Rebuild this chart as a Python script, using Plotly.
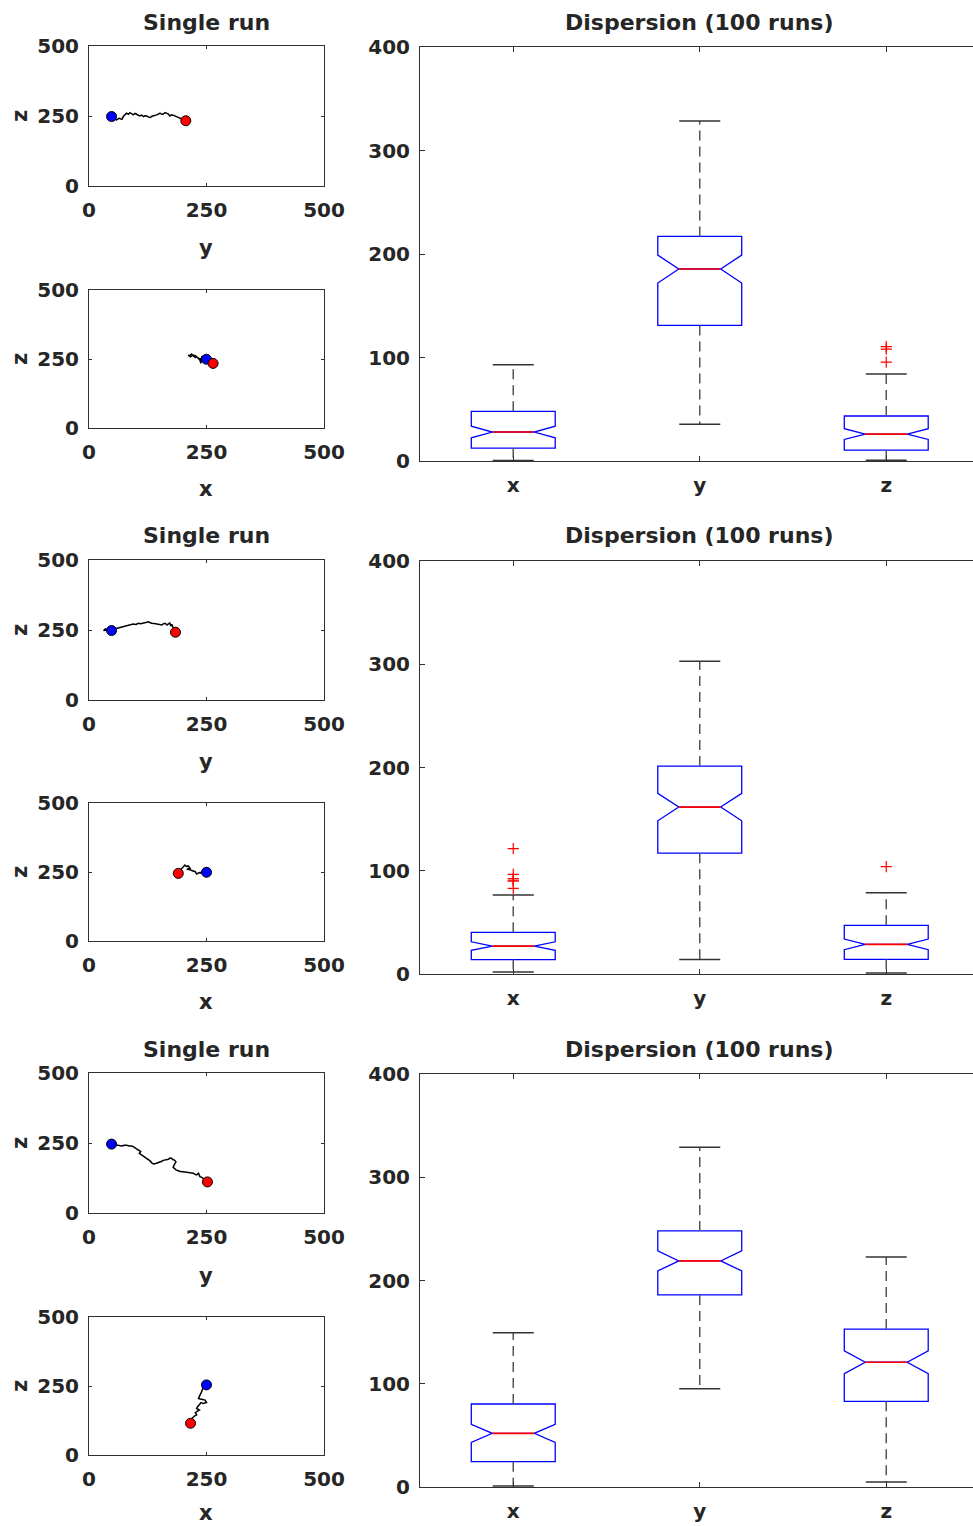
import numpy as np
import plotly.graph_objects as go

W, H = 973, 1526

# ---------------- Single-run trajectories (data units) ----------------
# Run 1: z vs y
r1_zy_y = [48, 53, 59, 64, 70, 73, 77, 80, 84, 87, 91, 94, 98, 101, 105, 108, 112, 116, 119, 123, 127, 130,
           134, 137, 141, 144, 148, 151, 155, 158, 162, 165, 169, 172, 176, 179, 183, 186, 190, 194, 200, 206]
r1_zy_z = [248, 240, 236, 242, 238, 248, 255, 260, 256, 262, 258, 254, 259, 257, 252, 250, 253, 248, 251, 250,
           246, 245, 249, 250, 254, 254, 257, 260, 256, 257, 262, 259, 257, 250, 254, 253, 250, 248, 245, 242, 238, 233]
# Run 1: z vs x
r1_zx_x = [250, 246, 243, 240, 238, 236, 233, 229, 226, 222, 218, 214, 211, 216, 221, 226, 231, 236, 241, 246, 251, 256, 260, 264]
r1_zx_z = [249, 256, 261, 258, 234, 246, 252, 258, 255, 261, 268, 262, 264, 258, 264, 262, 255, 250, 254, 244, 247, 240, 238, 234]
# Run 2: z vs y
r2_zy_y = [48, 40, 31, 35, 38, 45, 52, 59, 66, 73, 80, 87, 94, 100, 105, 110, 116, 121, 126, 130, 133, 139,
           144, 150, 155, 158, 162, 166, 169, 172, 174, 176, 178, 181, 184]
r2_zy_z = [248, 250, 248, 254, 252, 250, 253, 256, 258, 260, 264, 268, 271, 270, 274, 272, 276, 277, 279, 276,
           274, 273, 271, 270, 268, 272, 274, 268, 271, 275, 264, 270, 262, 256, 242]
# Run 2: z vs x
r2_zx_x = [250, 245, 240, 237, 235, 232, 229, 226, 222, 218, 213, 208, 212, 215, 211, 207, 204, 200, 197, 193, 190]
r2_zx_z = [249, 247, 251, 246, 248, 244, 243, 251, 254, 257, 259, 260, 262, 263, 272, 270, 275, 268, 263, 255, 245]
# Run 3: z vs y
r3_zy_y = [48, 54, 59, 65, 70, 75, 80, 86, 91, 95, 98, 102, 105, 108, 110, 107, 112, 116, 119, 123, 126, 130,
           133, 135, 137, 142, 148, 151, 155, 158, 162, 165, 169, 172, 176, 179, 182, 185, 183, 181, 179, 182,
           185, 190, 194, 200, 208, 215, 222, 226, 229, 233, 236, 240, 243, 248, 252]
r3_zy_z = [246, 244, 243, 240, 239, 242, 242, 239, 239, 236, 231, 228, 225, 222, 219, 213, 207, 203, 199, 196,
           192, 186, 180, 178, 175, 177, 180, 183, 185, 188, 189, 191, 192, 196, 195, 190, 189, 183, 178, 171,
           163, 158, 154, 151, 148, 147, 145, 144, 142, 138, 136, 142, 130, 127, 124, 117, 111]
# Run 3: z vs x
r3_zx_x = [250, 246, 243, 241, 240, 238, 236, 234, 233, 237, 240, 244, 247, 250, 247, 243, 240, 238, 236, 233,
           231, 229, 232, 235, 230, 226, 228, 229, 225, 222, 220, 218, 217, 216]
r3_zx_z = [254, 248, 242, 236, 229, 223, 217, 211, 205, 203, 202, 200, 199, 190, 188, 187, 189, 190, 185, 181,
           175, 169, 166, 163, 158, 153, 149, 145, 142, 139, 134, 129, 122, 115]

# ---------------- Dispersion (100 runs) box statistics ----------------
box_categories = ["x", "y", "z"]
n_runs = 100

r1_q1 = [12.5, 131.0, 10.6]
r1_med = [28.0, 185.5, 26.0]
r1_q3 = [48.0, 217.0, 43.5]
r1_wlo = [0.5, 35.5, 0.8]
r1_whi = [93.0, 328.5, 84.0]
r1_out = [[], [], [95.5, 108.0, 110.5]]

r2_q1 = [14.0, 117.0, 14.2]
r2_med = [27.0, 161.7, 28.7]
r2_q3 = [40.4, 201.4, 47.1]
r2_wlo = [2.0, 14.0, 1.0]
r2_whi = [76.5, 303.0, 78.7]
r2_out = [[83.0, 90.0, 91.0, 92.5, 96.5, 121.5], [], [104.0]]

r3_q1 = [24.5, 186.0, 83.0]
r3_med = [52.0, 219.0, 120.8]
r3_q3 = [80.4, 248.0, 153.0]
r3_wlo = [1.0, 95.2, 4.8]
r3_whi = [149.4, 329.0, 222.8]
r3_out = [[], [], []]

# ---------------- layout geometry ----------------
def fx(px):
    return px / W

def fy(py):
    return 1 - py / H

FONT = "DejaVu Sans"
TXT = "#262626"
AXC = "#303030"

rows = [
    dict(top=(46, 186), bot=(290, 428), box=(47, 461), title_y=22, lab1_y=248, lab2_y=489,
         zy=(r1_zy_y, r1_zy_z), zx=(r1_zx_x, r1_zx_z),
         stats=(r1_q1, r1_med, r1_q3, r1_wlo, r1_whi, r1_out)),
    dict(top=(560, 700), bot=(803, 941), box=(561, 974), title_y=536, lab1_y=762, lab2_y=1002,
         zy=(r2_zy_y, r2_zy_z), zx=(r2_zx_x, r2_zx_z),
         stats=(r2_q1, r2_med, r2_q3, r2_wlo, r2_whi, r2_out)),
    dict(top=(1073, 1213), bot=(1317, 1455), box=(1074, 1487), title_y=1049, lab1_y=1276, lab2_y=1513,
         zy=(r3_zy_y, r3_zy_z), zx=(r3_zx_x, r3_zx_z),
         stats=(r3_q1, r3_med, r3_q3, r3_wlo, r3_whi, r3_out)),
]

SX0, SX1 = 89, 324
BX0 = 420
cat_px = 186.5
xr_right = 0.5 + (W - BX0) / cat_px

fig = go.Figure()
layout = dict(width=W, height=H, margin=dict(l=0, r=0, t=0, b=0, autoexpand=False),
              paper_bgcolor="white", plot_bgcolor="white", showlegend=False)
annotations = []

tickfont = dict(family=FONT, size=20, color=TXT, weight="bold")

def small_axes(idx, py0, py1):
    common = dict(showline=True, linecolor=AXC, linewidth=1, mirror="ticks", ticks="inside",
                  ticklen=3, tickcolor=AXC, showgrid=False, zeroline=False, range=[0, 500],
                  tickvals=[0, 250, 500], tickfont=tickfont, fixedrange=True)
    layout["xaxis%s" % ("" if idx == 1 else idx)] = dict(
        domain=[fx(SX0), fx(SX1)], anchor="y%s" % ("" if idx == 1 else idx),
        ticklabelstandoff=6, **common)
    layout["yaxis%s" % ("" if idx == 1 else idx)] = dict(
        domain=[fy(py1), fy(py0)], anchor="x%s" % ("" if idx == 1 else idx),
        ticklabelstandoff=5, **common)

def box_axes(idx, py0, py1):
    layout["xaxis%d" % idx] = dict(
        domain=[fx(BX0), 1.0], anchor="y%d" % idx, range=[0.5, xr_right],
        showline=True, linecolor=AXC, linewidth=1, mirror="ticks", ticks="inside",
        ticklen=5, tickcolor=AXC, showgrid=False, zeroline=False,
        tickvals=[1, 2, 3], ticktext=box_categories, tickfont=tickfont,
        ticklabelstandoff=6, fixedrange=True)
    layout["yaxis%d" % idx] = dict(
        domain=[fy(py1), fy(py0)], anchor="x%d" % idx, range=[0, 400],
        showline=True, linecolor=AXC, linewidth=1, mirror=False, ticks="inside",
        ticklen=5, tickcolor=AXC, showgrid=False, zeroline=False,
        tickvals=[0, 100, 200, 300, 400], tickfont=tickfont,
        ticklabelstandoff=5, fixedrange=True)

def ann(text, x, y, size=20, angle=0):
    annotations.append(dict(text=text, x=fx(x), y=fy(y), xref="paper", yref="paper",
                            xanchor="center", yanchor="middle", showarrow=False,
                            textangle=angle,
                            font=dict(family=FONT, size=size, color=TXT, weight="bold")))

BOXW = 0.45
CAPW = 0.22

ax = 1
for r in rows:
    i1 = ax
    small_axes(i1, *r["top"])
    i2 = ax + 1
    small_axes(i2, *r["bot"])
    ib = ax + 2
    box_axes(ib, *r["box"])
    ax += 3

    for idx, (px, pz) in ((i1, r["zy"]), (i2, r["zx"])):
        xa = "x" if idx == 1 else "x%d" % idx
        ya = "y" if idx == 1 else "y%d" % idx
        fig.add_trace(go.Scatter(x=px, y=pz, mode="lines", line=dict(color="black", width=1.5),
                                 xaxis=xa, yaxis=ya, hoverinfo="skip"))
        fig.add_trace(go.Scatter(x=[px[0]], y=[pz[0]], mode="markers",
                                 marker=dict(color="#0000FF", size=10, line=dict(color="black", width=1)),
                                 xaxis=xa, yaxis=ya))
        fig.add_trace(go.Scatter(x=[px[-1]], y=[pz[-1]], mode="markers",
                                 marker=dict(color="#FF0000", size=10, line=dict(color="black", width=1)),
                                 xaxis=xa, yaxis=ya))

    q1, med, q3, wlo, whi, outs = r["stats"]
    pos = [1, 2, 3]
    xa, ya = "x%d" % ib, "y%d" % ib
    notch = [1.57 * (b - a) / np.sqrt(n_runs) for a, b in zip(q1, q3)]

    # whiskers (dashed)
    wx, wy = [], []
    for p, a, b, lo, hi in zip(pos, q1, q3, wlo, whi):
        wx += [p, p, None, p, p, None]
        wy += [b, hi, None, a, lo, None]
    fig.add_trace(go.Scatter(x=wx, y=wy, mode="lines", xaxis=xa, yaxis=ya, hoverinfo="skip",
                             line=dict(color="#555555", width=1.5, dash="10px,6px")))
    # caps
    cx, cy = [], []
    for p, lo, hi in zip(pos, wlo, whi):
        cx += [p - CAPW / 2, p + CAPW / 2, None, p - CAPW / 2, p + CAPW / 2, None]
        cy += [hi, hi, None, lo, lo, None]
    fig.add_trace(go.Scatter(x=cx, y=cy, mode="lines", xaxis=xa, yaxis=ya, hoverinfo="skip",
                             line=dict(color="#333333", width=1.5)))
    # notched boxes
    fig.add_trace(go.Box(x=pos, q1=q1, median=med, q3=q3, lowerfence=q1, upperfence=q3,
                         notched=True, notchspan=notch, notchwidth=0.25, width=BOXW,
                         whiskerwidth=0, boxpoints=False,
                         line=dict(color="#0000FF", width=1.3), fillcolor="rgba(0,0,0,0)",
                         xaxis=xa, yaxis=ya))
    # red medians
    mx, my = [], []
    for p, m in zip(pos, med):
        mx += [p - BOXW / 4, p + BOXW / 4, None]
        my += [m, m, None]
    fig.add_trace(go.Scatter(x=mx, y=my, mode="lines", xaxis=xa, yaxis=ya, hoverinfo="skip",
                             line=dict(color="#FF0000", width=1.7)))
    # outliers
    ox, oy = [], []
    for p, o in zip(pos, outs):
        ox += [p] * len(o)
        oy += o
    if ox:
        fig.add_trace(go.Scatter(x=ox, y=oy, mode="markers", xaxis=xa, yaxis=ya,
                                 marker=dict(symbol="cross-thin", size=8,
                                             line=dict(color="#FF0000", width=1.2))))

    ann("Single run", 206, r["title_y"], size=22)
    ann("Dispersion (100 runs)", 699, r["title_y"], size=22)
    ann("y", 206, r["lab1_y"], size=21)
    ann("x", 206, r["lab2_y"], size=21)
    ann("z", 20, (r["top"][0] + r["top"][1]) / 2, size=21, angle=-90)
    ann("z", 20, (r["bot"][0] + r["bot"][1]) / 2, size=21, angle=-90)

layout["annotations"] = annotations
fig.update_layout(**layout)
fig.write_html("out.html")
